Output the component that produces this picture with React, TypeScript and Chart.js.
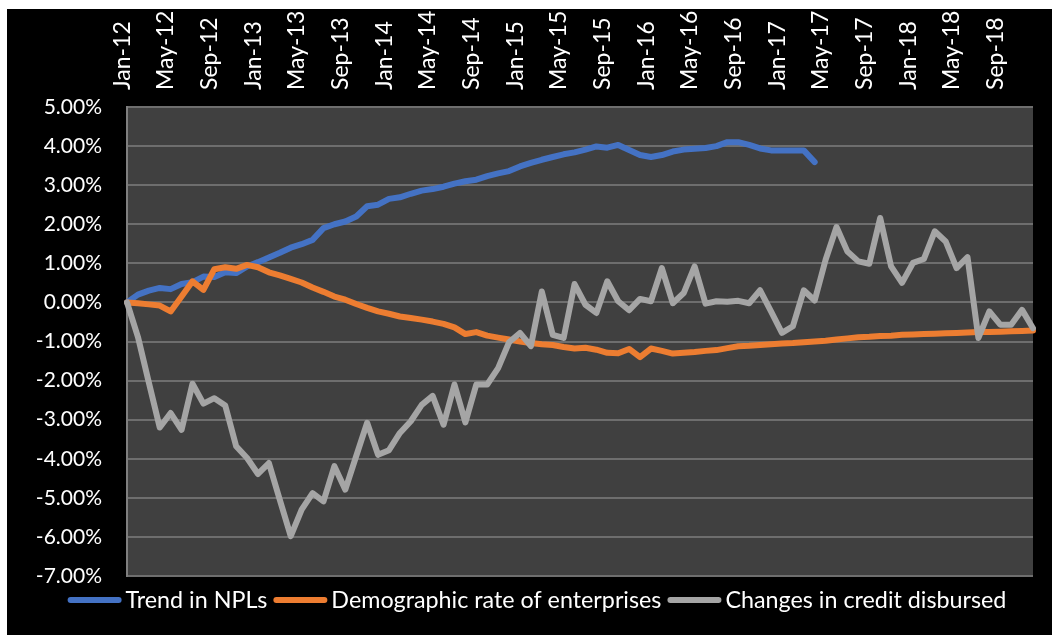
import React, { useEffect, useRef } from 'react';
import { Chart, registerables } from 'chart.js';

Chart.register(...registerables);

const categories: string[] = [
  'Jan-12', 'Feb-12', 'Mar-12', 'Apr-12', 'May-12', 'Jun-12', 'Jul-12', 'Aug-12', 'Sep-12', 'Oct-12', 'Nov-12', 'Dec-12',
  'Jan-13', 'Feb-13', 'Mar-13', 'Apr-13', 'May-13', 'Jun-13', 'Jul-13', 'Aug-13', 'Sep-13', 'Oct-13', 'Nov-13', 'Dec-13',
  'Jan-14', 'Feb-14', 'Mar-14', 'Apr-14', 'May-14', 'Jun-14', 'Jul-14', 'Aug-14', 'Sep-14', 'Oct-14', 'Nov-14', 'Dec-14',
  'Jan-15', 'Feb-15', 'Mar-15', 'Apr-15', 'May-15', 'Jun-15', 'Jul-15', 'Aug-15', 'Sep-15', 'Oct-15', 'Nov-15', 'Dec-15',
  'Jan-16', 'Feb-16', 'Mar-16', 'Apr-16', 'May-16', 'Jun-16', 'Jul-16', 'Aug-16', 'Sep-16', 'Oct-16', 'Nov-16', 'Dec-16',
  'Jan-17', 'Feb-17', 'Mar-17', 'Apr-17', 'May-17', 'Jun-17', 'Jul-17', 'Aug-17', 'Sep-17', 'Oct-17', 'Nov-17', 'Dec-17',
  'Jan-18', 'Feb-18', 'Mar-18', 'Apr-18', 'May-18', 'Jun-18', 'Jul-18', 'Aug-18', 'Sep-18', 'Oct-18', 'Nov-18', 'Dec-18',
];

const seriesNames: string[] = ['Trend in NPLs', 'Demographic rate of enterprises', 'Changes in credit disbursed'];

const trendNPLs: number[] = [
  0.00, 0.20, 0.30, 0.37, 0.34, 0.47, 0.52, 0.66, 0.65, 0.77, 0.75, 0.92,
  1.03, 1.15, 1.27, 1.40, 1.49, 1.60, 1.90, 2.00, 2.07, 2.20, 2.46, 2.50,
  2.65, 2.69, 2.78, 2.86, 2.90, 2.96, 3.04, 3.10, 3.14, 3.23, 3.30, 3.36,
  3.48, 3.57, 3.65, 3.72, 3.79, 3.84, 3.91, 3.99, 3.96, 4.03, 3.90, 3.77,
  3.72, 3.77, 3.86, 3.91, 3.93, 3.95, 4.00, 4.10, 4.10, 4.03, 3.94, 3.89,
  3.89, 3.89, 3.89, 3.59,
];

const demographicRate: number[] = [
  0.00, -0.02, -0.05, -0.08, -0.23, 0.15, 0.54, 0.32, 0.85, 0.90, 0.86, 0.96,
  0.90, 0.77, 0.69, 0.60, 0.51, 0.38, 0.27, 0.15, 0.07, -0.04, -0.14, -0.23,
  -0.29, -0.36, -0.40, -0.44, -0.49, -0.55, -0.64, -0.81, -0.76, -0.85, -0.90, -0.95,
  -1.00, -1.04, -1.07, -1.09, -1.14, -1.18, -1.16, -1.21, -1.29, -1.30, -1.19, -1.40,
  -1.18, -1.24, -1.31, -1.29, -1.27, -1.24, -1.22, -1.17, -1.12, -1.11, -1.09, -1.07,
  -1.05, -1.04, -1.02, -1.00, -0.98, -0.95, -0.92, -0.89, -0.88, -0.86, -0.85, -0.83,
  -0.82, -0.81, -0.80, -0.79, -0.78, -0.77, -0.76, -0.76, -0.75, -0.74, -0.73, -0.72,
];

const creditChanges: number[] = [
  0.00, -0.88, -2.05, -3.20, -2.83, -3.26, -2.08, -2.59, -2.45, -2.64, -3.68, -3.98,
  -4.39, -4.11, -5.05, -5.98, -5.30, -4.88, -5.09, -4.19, -4.79, -3.93, -3.08, -3.90,
  -3.78, -3.34, -3.04, -2.62, -2.39, -3.13, -2.10, -3.07, -2.10, -2.10, -1.68, -1.02,
  -0.78, -1.12, 0.28, -0.83, -0.91, 0.47, -0.06, -0.27, 0.54, 0.03, -0.20, 0.09,
  0.03, 0.88, -0.02, 0.24, 0.92, -0.03, 0.03, 0.02, 0.04, -0.02, 0.31, -0.23,
  -0.78, -0.61, 0.31, 0.05, 1.09, 1.93, 1.30, 1.05, 0.99, 2.16, 0.92, 0.50,
  1.01, 1.11, 1.82, 1.56, 0.88, 1.16, -0.91, -0.23, -0.57, -0.57, -0.19, -0.66,
];

const Y_MIN = -7;
const Y_MAX = 5;
const Y_STEP = 1;
const X_LABEL_EVERY = 4;

const COLORS = ['#4472C4', '#ED7D31', '#A5A5A5'];
const FONT_FAMILY = 'Lato, "Liberation Sans", sans-serif';
const Y_TICK_FONT_SIZE = 21;
const X_TICK_FONT_SIZE = 23;
const LEGEND_FONT_SIZE = 23.3;

const plotBackground = {
  id: 'plotBackground',
  beforeDraw(chart: any) {
    const { ctx, chartArea } = chart;
    ctx.save();
    ctx.fillStyle = '#000000';
    ctx.fillRect(0, 0, chart.width, chart.height);
    ctx.fillStyle = '#404040';
    ctx.fillRect(chartArea.left, chartArea.top, chartArea.right - chartArea.left, chartArea.bottom - chartArea.top);
    ctx.restore();
  },
};

const bottomLegend = {
  id: 'bottomLegend',
  afterDraw(chart: any) {
    const { ctx } = chart;
    ctx.save();
    ctx.font = `${LEGEND_FONT_SIZE}px ${FONT_FAMILY}`;
    ctx.textBaseline = 'middle';
    ctx.textAlign = 'left';
    const lineLen = 54;
    const gapText = 4;
    const gapItem = 6;
    const items = chart.data.datasets.map((ds: any) => ({ label: ds.label, color: ds.borderColor }));
    const widths = items.map((it: any) => lineLen + gapText + ctx.measureText(it.label).width);
    const total = widths.reduce((a: number, b: number) => a + b, 0) + gapItem * (items.length - 1);
    let x = 530 - total / 2;
    const y = 591;
    items.forEach((it: any, i: number) => {
      ctx.strokeStyle = it.color;
      ctx.lineWidth = 6;
      ctx.lineCap = 'round';
      ctx.beginPath();
      ctx.moveTo(x + 3, y);
      ctx.lineTo(x + lineLen - 3, y);
      ctx.stroke();
      ctx.fillStyle = '#FFFFFF';
      ctx.fillText(it.label, x + lineLen + gapText, y);
      x += widths[i] + gapItem;
    });
    ctx.restore();
  },
};

export default function App() {
  const ref = useRef<HTMLCanvasElement | null>(null);

  useEffect(() => {
    if (!ref.current) return;
    const chart = new Chart(ref.current, {
      type: 'line',
      data: {
        labels: categories,
        datasets: [
          { label: seriesNames[0], data: trendNPLs, borderColor: COLORS[0], backgroundColor: COLORS[0], order: 3 },
          { label: seriesNames[1], data: demographicRate, borderColor: COLORS[1], backgroundColor: COLORS[1], order: 2 },
          { label: seriesNames[2], data: creditChanges, borderColor: COLORS[2], backgroundColor: COLORS[2], order: 1 },
        ],
      },
      options: {
        animation: false,
        responsive: false,
        maintainAspectRatio: false,
        layout: { padding: { left: 0, right: 19, top: 0, bottom: 59 } },
        elements: {
          point: { radius: 0, hoverRadius: 0 },
          line: { tension: 0, borderWidth: 6, borderJoinStyle: 'round', borderCapStyle: 'round', fill: false },
        },
        plugins: {
          legend: { display: false },
          tooltip: { enabled: false },
        },
        scales: {
          x: {
            position: 'top',
            offset: false,
            grid: { display: false, drawTicks: false },
            border: { display: false },
            ticks: {
              autoSkip: false,
              maxRotation: 90,
              minRotation: 90,
              padding: 17,
              labelOffset: 23,
              color: '#FFFFFF',
              font: { family: FONT_FAMILY, size: X_TICK_FONT_SIZE },
              callback: (_v: any, index: number) => (index % X_LABEL_EVERY === 0 ? categories[index] : ''),
            },
            afterFit: (scale: any) => {
              scale.height = 98;
            },
          },
          y: {
            min: Y_MIN,
            max: Y_MAX,
            grid: { color: '#6E6E6E', lineWidth: 2, drawTicks: false },
            border: { display: true, color: '#7F7F7F', width: 2 },
            ticks: {
              stepSize: Y_STEP,
              padding: 25,
              color: '#FFFFFF',
              font: { family: FONT_FAMILY, size: Y_TICK_FONT_SIZE },
              callback: (v: any) => `${Number(v).toFixed(2)}%`,
            },
            afterFit: (scale: any) => {
              scale.width = 120;
            },
          },
        },
      },
      plugins: [plotBackground, bottomLegend],
    } as any);
    return () => chart.destroy();
  }, []);

  return (
    <div style={{ position: 'absolute', left: 7, top: 9, width: 1045, height: 626, background: '#000' }}>
      <canvas ref={ref} width={1045} height={626} style={{ display: 'block', width: 1045, height: 626 }} />
    </div>
  );
}
